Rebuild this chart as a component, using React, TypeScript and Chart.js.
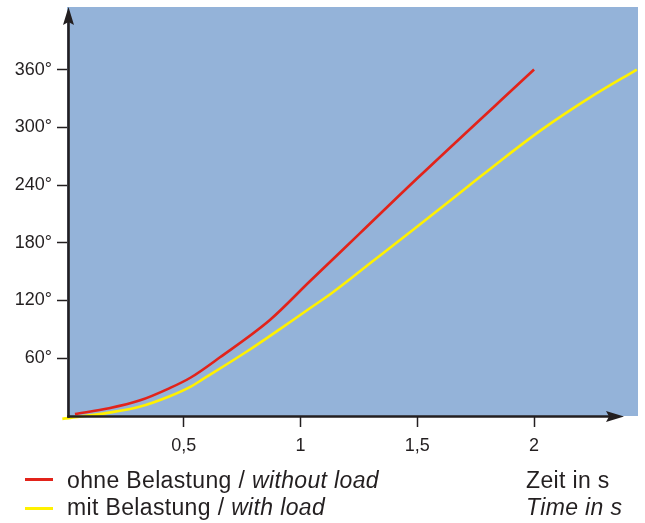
import React, { useEffect, useRef } from "react";
import { Chart, registerables } from "chart.js";

Chart.register(...registerables);

// ---- data ----
const redX = [0.034, 0.18, 0.31, 0.44, 0.53, 0.655, 0.87, 1.04, 1.255, 1.5, 2.0];
const redY = [2, 8, 16, 29, 40, 61, 100, 140, 190, 247, 360];
const yellowX = [-0.02, 0.18, 0.31, 0.44, 0.53, 0.58, 0.77, 0.91, 1.04, 1.13, 1.31, 1.5, 1.73, 1.85, 2.03, 2.24, 2.44];
const yellowY = [-3, 3.5, 9.5, 20.5, 30.5, 38, 67, 90, 112, 127, 161, 197, 241, 264, 297, 331, 360];
const xTicks = [0.5, 1, 1.5, 2];
const xTickLabels = ["0,5", "1", "1,5", "2"];
const yTicks = [60, 120, 180, 240, 300, 360];
const yTickLabels = ["60°", "120°", "180°", "240°", "300°", "360°"];
const seriesLabels = ["ohne Belastung / ", "mit Belastung / "];
const seriesLabelsEn = ["without load", "with load"];
const axisTitle = ["Zeit in s", "Time in s"];

const BLUE = "#94B3D9";
const RED = "#E2231A";
const YELLOW = "#FFF100";
const INK = "#231F20";
const FONT = "'Liberation Sans', Arial, sans-serif";

const bgAxesPlugin = {
  id: "bgAxes",
  beforeDraw(chart: any) {
    const { ctx, chartArea: a } = chart;
    ctx.save();
    ctx.fillStyle = BLUE;
    ctx.fillRect(a.left, a.top, a.right - a.left, a.bottom - a.top);
    ctx.restore();
  },
  afterDatasetsDraw(chart: any) {
    const { ctx, chartArea: a } = chart;
    ctx.save();
    ctx.strokeStyle = INK;
    ctx.fillStyle = INK;
    ctx.lineWidth = 2.6;
    const ax = a.left + 1.5;
    const ay = a.bottom + 0.5;
    const xTip = a.right - 14;
    // y axis
    ctx.beginPath();
    ctx.moveTo(ax, ay + 1.3);
    ctx.lineTo(ax, a.top + 14);
    ctx.stroke();
    ctx.beginPath();
    ctx.moveTo(ax, a.top);
    ctx.lineTo(ax - 5.5, a.top + 18);
    ctx.lineTo(ax, a.top + 15);
    ctx.lineTo(ax + 5.5, a.top + 18);
    ctx.closePath();
    ctx.fill();
    // x axis
    ctx.beginPath();
    ctx.moveTo(ax - 1.3, ay);
    ctx.lineTo(xTip - 14, ay);
    ctx.stroke();
    ctx.beginPath();
    ctx.moveTo(xTip, ay);
    ctx.lineTo(xTip - 18, ay - 5.5);
    ctx.lineTo(xTip - 15, ay);
    ctx.lineTo(xTip - 18, ay + 5.5);
    ctx.closePath();
    ctx.fill();
    ctx.restore();
  },
};

export default function App() {
  const ref = useRef<HTMLCanvasElement | null>(null);
  useEffect(() => {
    if (!ref.current) return;
    const chart = new Chart(ref.current, {
      type: "line",
      data: {
        datasets: [
          {
            label: seriesLabels[0] + seriesLabelsEn[0],
            data: redX.map((x, i) => ({ x, y: redY[i] })),
            borderColor: RED,
            borderWidth: 2.6,
            pointRadius: 0,
            cubicInterpolationMode: "monotone",
            fill: false,
          },
          {
            label: seriesLabels[1] + seriesLabelsEn[1],
            data: yellowX.map((x, i) => ({ x, y: yellowY[i] })),
            borderColor: YELLOW,
            borderWidth: 2.6,
            pointRadius: 0,
            cubicInterpolationMode: "monotone",
            fill: false,
            clip: false,
          },
        ] as any,
      },
      options: {
        animation: false,
        responsive: false,
        devicePixelRatio: 1,
        layout: { padding: { top: 7, right: 7, left: 0, bottom: 0 } },
        plugins: { legend: { display: false }, tooltip: { enabled: false } },
        scales: {
          x: {
            type: "linear",
            min: 0,
            max: 2.445,
            afterBuildTicks: (s: any) => {
              s.ticks = xTicks.map((v) => ({ value: v }));
            },
            afterFit: (s: any) => {
              s.height = 107;
              s.paddingLeft = 0;
              s.paddingRight = 0;
            },
            ticks: {
              autoSkip: false,
              maxRotation: 0,
              padding: 8,
              color: INK,
              font: { family: FONT, size: 18 },
              callback: (v: any) => {
                const i = xTicks.indexOf(Number(v));
                return i >= 0 ? xTickLabels[i] : "";
              },
            },
            grid: {
              drawOnChartArea: false,
              drawTicks: true,
              tickLength: 11,
              tickColor: INK,
              tickWidth: 1.5,
            },
            border: { display: false },
          },
          y: {
            type: "linear",
            min: 0,
            max: 425,
            afterBuildTicks: (s: any) => {
              s.ticks = yTicks.map((v) => ({ value: v }));
            },
            afterFit: (s: any) => {
              s.width = 67;
              s.paddingTop = 0;
              s.paddingBottom = 0;
            },
            ticks: {
              autoSkip: false,
              padding: 5,
              color: INK,
              font: { family: FONT, size: 18 },
              callback: (v: any) => {
                const i = yTicks.indexOf(Number(v));
                return i >= 0 ? yTickLabels[i] : "";
              },
            },
            grid: {
              drawOnChartArea: false,
              drawTicks: true,
              tickLength: 10,
              tickColor: INK,
              tickWidth: 1.5,
            },
            border: { display: false },
          },
        },
      } as any,
      plugins: [bgAxesPlugin],
    });
    return () => chart.destroy();
  }, []);

  const textStyle: React.CSSProperties = {
    position: "absolute",
    fontFamily: FONT,
    fontSize: 23,
    color: INK,
    lineHeight: "24px",
    letterSpacing: "0.35px",
    whiteSpace: "nowrap",
  };

  return (
    <div style={{ position: "absolute", left: 0, top: 0, width: 645, height: 523, background: "#fff" }}>
      <canvas ref={ref} width={645} height={523} style={{ position: "absolute", left: 0, top: 0, width: 645, height: 523 }} />
      <div style={{ position: "absolute", left: 25, top: 478, width: 28, height: 2.6, background: RED }} />
      <div style={{ position: "absolute", left: 25, top: 507, width: 28, height: 2.6, background: YELLOW }} />
      <div style={{ ...textStyle, left: 67, top: 468 }}>
        {seriesLabels[0]}
        <i>{seriesLabelsEn[0]}</i>
      </div>
      <div style={{ ...textStyle, left: 67, top: 495 }}>
        {seriesLabels[1]}
        <i>{seriesLabelsEn[1]}</i>
      </div>
      <div style={{ ...textStyle, left: 526, top: 468 }}>{axisTitle[0]}</div>
      <div style={{ ...textStyle, left: 526, top: 495, fontStyle: "italic" }}>{axisTitle[1]}</div>
    </div>
  );
}
